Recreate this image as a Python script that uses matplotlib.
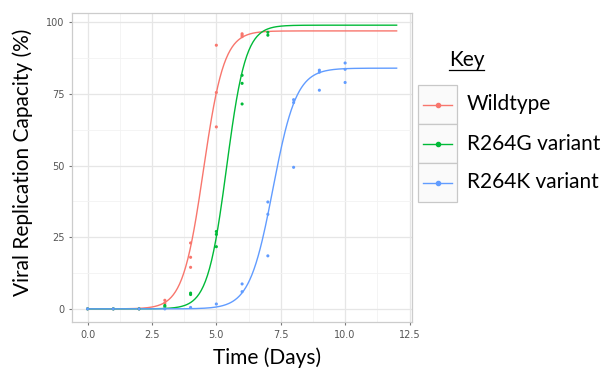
import numpy as np
import matplotlib.pyplot as plt
from matplotlib.patches import Rectangle
from matplotlib.lines import Line2D

# ---------------- DATA ------------------------------------------
wt_days = [0, 1, 2, 3, 3, 4, 4, 4, 5, 5, 5, 6, 6, 6]
wt_vals = [0, 0, 0, 3, 2, 23, 18, 14.5, 92, 75.5, 63.5, 96, 95.5, 95]

g_days = [0, 1, 2, 3, 3, 4, 4, 5, 5, 5, 6, 6, 6, 7, 7]
g_vals = [0, 0, 0, 1.2, 0.8, 5.5, 5, 27, 26, 21.7, 81.5, 78.7, 71.5, 96.5, 95.5]

b_days = [0, 1, 2, 3, 4, 5, 6, 6, 7, 7, 7, 8, 8, 8, 9, 9, 9, 10, 10, 10]
b_vals = [0, 0, 0, 0, 0.5, 1.7, 8.7, 6, 37.3, 33, 18.5, 49.4, 73, 72,
          83.3, 82.6, 76.3, 85.8, 83.6, 79]

# logistic fit parameters (upper asymptote, midpoint day, rate)
wt_fit = (97, 4.5, 2.5)
g_fit = (99, 5.4, 2.7)
b_fit = (84, 7.2, 2.2)

labels = ["Wildtype", "R264G variant", "R264K variant"]
colors = ["#F8766D", "#00BA38", "#619CFF"]

x_ticks = [0.0, 2.5, 5.0, 7.5, 10.0, 12.5]
y_ticks = [0, 25, 50, 75, 100]

FONT = "Lato"


def logistic(t, top, mid, rate):
    return top / (1 + np.exp(-rate * (t - mid)))


fig = plt.figure(figsize=(6.06, 3.78), dpi=100)
ax = fig.add_axes([0.119, 0.148, 0.561, 0.818])

t = np.linspace(0, 12, 300)
series = [(wt_days, wt_vals, wt_fit), (g_days, g_vals, g_fit), (b_days, b_vals, b_fit)]
for (d, v, fit), c in zip(series, colors):
    ax.plot(t, logistic(t, *fit), color=c, lw=1.0, zorder=3)
    ax.scatter(d, v, s=5, color=c, edgecolors="none", zorder=4)

ax.set_xlim(-0.6, 12.6)
ax.set_ylim(-4.6, 103.3)
ax.set_xticks(x_ticks)
ax.set_xticklabels([f"{x:.1f}" for x in x_ticks])
ax.set_yticks(y_ticks)
ax.set_xticks([1.25, 3.75, 6.25, 8.75, 11.25], minor=True)
ax.set_yticks([12.5, 37.5, 62.5, 87.5], minor=True)
ax.grid(which="major", color="#e6e6e6", lw=0.9)
ax.grid(which="minor", color="#f2f2f2", lw=0.6)
ax.set_axisbelow(True)
ax.tick_params(which="major", length=2.5, color="#777777", labelsize=7,
               labelcolor="#555555", pad=3)
ax.tick_params(which="minor", length=0)
for s in ax.spines.values():
    s.set_color("#cccccc")
    s.set_linewidth(0.9)

fig.text(0.037, 0.57, "Viral Replication Capacity (%)", rotation=90,
         ha="center", va="center", fontsize=15, family=FONT)
fig.text(0.44, 0.053, "Time (Days)", ha="center", va="center",
         fontsize=15, family=FONT)

# ---- legend drawn as ggplot-style key boxes ----
W, H = 606, 378
fig.text(449 / W, 1 - 60 / H, "Key", ha="left", va="center", fontsize=15,
         family=FONT)
fig.add_artist(Line2D([449 / W, 484 / W], [1 - 70 / H, 1 - 70 / H],
                      color="black", lw=0.9))
box_x0, box_w, box_h, box_top = 418, 39, 39, 85
for i, (lab, c) in enumerate(zip(labels, colors)):
    y0 = box_top + i * box_h
    fig.add_artist(Rectangle((box_x0 / W, 1 - (y0 + box_h) / H), box_w / W,
                             box_h / H, facecolor="#fafafa",
                             edgecolor="#c8c8c8", lw=0.9))
    yc = 1 - (y0 + box_h / 2) / H
    fig.add_artist(Line2D([(box_x0 + 5) / W, (box_x0 + box_w - 5) / W],
                          [yc, yc], color=c, lw=1.0))
    fig.add_artist(Line2D([(box_x0 + box_w / 2) / W], [yc], color=c,
                          marker="o", ms=3, lw=0))
    fig.text(467 / W, yc, lab, ha="left", va="center", fontsize=15,
             family=FONT)

fig.savefig("out.png", dpi=100)
